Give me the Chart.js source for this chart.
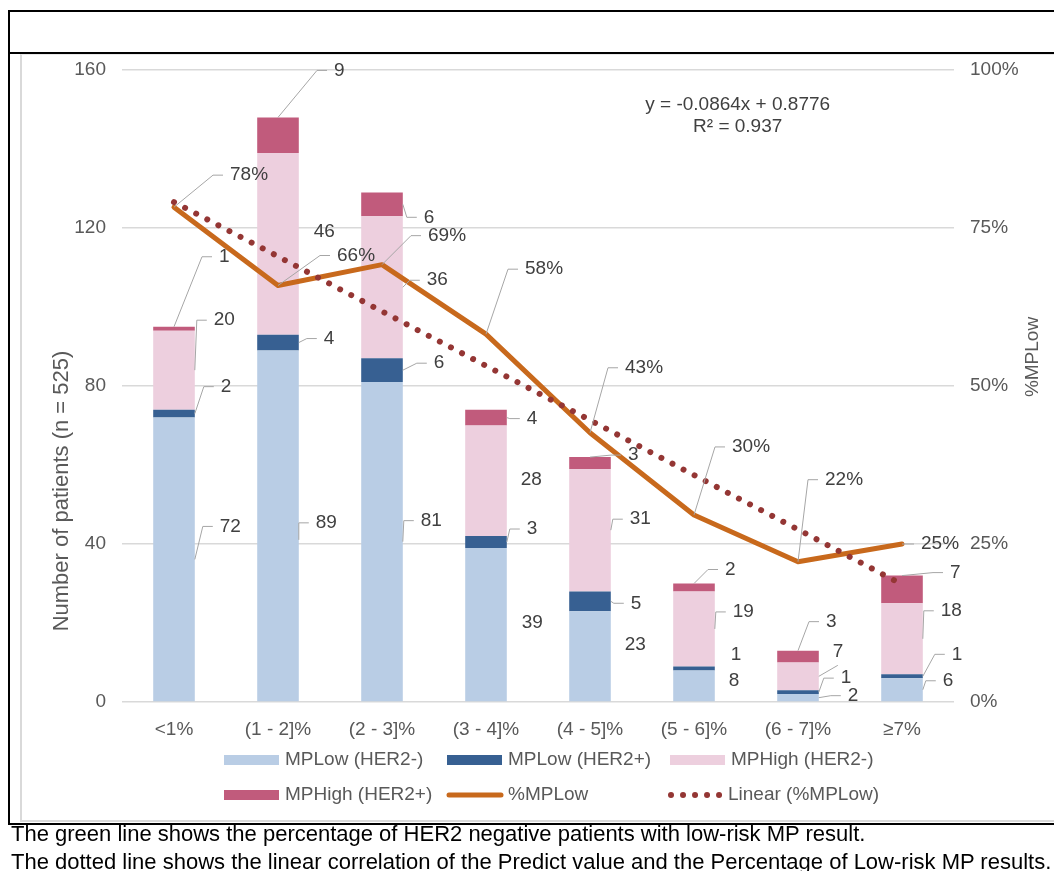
<!DOCTYPE html>
<html><head><meta charset="utf-8">
<script src="https://cdn.jsdelivr.net/npm/chart.js@4.4.1/dist/chart.umd.min.js"></script>
<style>
html,body{margin:0;padding:0;background:#fff;width:1054px;height:871px;overflow:hidden;font-family:"Liberation Sans",Arial,sans-serif;}
.ln{position:absolute;background:#000;}
#inner{position:absolute;left:20px;top:54px;width:1040px;height:765px;border-left:2px solid #D9D9D9;border-bottom:2px solid #D9D9D9;border-top:1px solid #E8E8E8;}
#cap{position:absolute;left:11px;top:820px;font-size:22px;line-height:28px;color:#000;white-space:nowrap;}
canvas{position:absolute;left:0;top:0;}
</style></head>
<body>
<div class="ln" style="left:8px;top:10px;width:1046px;height:2px"></div>
<div class="ln" style="left:8px;top:10px;width:2px;height:815px"></div>
<div class="ln" style="left:8px;top:52px;width:1046px;height:2px"></div>
<div id="inner"></div>
<div class="ln" style="left:8px;top:823px;width:1046px;height:2px"></div>
<canvas id="c" width="1054" height="871"></canvas>
<div id="cap">The green line shows the percentage of HER2 negative patients with low-risk MP result.<br>The dotted line shows the linear correlation of the Predict value and the Percentage of Low-risk MP results.</div>
<script>
const categories = ['<1%', '(1 - 2]%', '(2 - 3]%', '(3 - 4]%', '(4 - 5]%', '(5 - 6]%', '(6 - 7]%', '≥7%'];
const mpLowHer2Neg = [72, 89, 81, 39, 23, 8, 2, 6];
const mpLowHer2Pos = [2, 4, 6, 3, 5, 1, 1, 1];
const mpHighHer2Neg = [20, 46, 36, 28, 31, 19, 7, 18];
const mpHighHer2Pos = [1, 9, 6, 4, 3, 2, 3, 7];
const pctMPLow = [0.783, 0.659, 0.692, 0.582, 0.426, 0.296, 0.222, 0.25];
const linearMPLow = [0.791, 0.705, 0.618, 0.532, 0.446, 0.359, 0.273, 0.186];
const rightTickLabels = ['0%', '25%', '50%', '75%', '100%'];
const seriesNames = ['MPLow (HER2-)', 'MPLow (HER2+)', 'MPHigh (HER2-)', 'MPHigh (HER2+)', '%MPLow', 'Linear (%MPLow)'];
const trendText = ['y = -0.0864x + 0.8776', 'R² = 0.937'];
const leftTitle = 'Number of patients (n = 525)';
const rightTitle = '%MPLow';

const FONT = '"Liberation Sans", Arial, sans-serif';
const GREY = '#595959';

// label placement: [mode, dx, dy, leaderStartDy]
// mode r: right edge of segment + leader, n: no leader, t: top centre + leader, p: line point + leader, b: leader to label bottom
const labelLayout = {
  0: [['r',25,-33],['r',17,-3,14],['r',18,-21],['n',15,-2],['n',14,-11],['n',14,-5],['r',29,-2],['r',20,-9]],
  1: [['r',26,-27],['r',25,-4],['r',31,-7],['r',20,-13],['r',20,2],['n',16,-14],['r',22,-14],['r',29,-22]],
  2: [['r',19,-50],['n',15,-12],['r',24,-7],['n',14,-1],['r',19,-11],['r',18,-17],['b',14,-25],['r',18,-28]],
  3: [['t',45,-70],['t',56,-47],['r',21,13],['r',20,1],['t',38,-2],['t',31,-14],['t',28,-29],['t',48,-3]],
  4: [['p',56,-32],['p',59,-30],['p',46,-29],['p',39,-65],['p',35,-65],['p',38,-68],['p',27,-82],['p',19,0]]
};

const labelPlugin = {
  id: 'labelsAndDecor',
  afterDatasetsDraw(chart) {
    const ctx = chart.ctx;
    ctx.save();
    ctx.font = '19px ' + FONT;
    ctx.textBaseline = 'middle';
    ctx.textAlign = 'left';
    chart.data.datasets.forEach((ds, di) => {
      const lay = labelLayout[di];
      if (!lay) return;
      const meta = chart.getDatasetMeta(di);
      meta.data.forEach((el, i) => {
        const spec = lay[i];
        if (!spec) return;
        const [mode, dx, dy, ay] = spec;
        let ax, ayy;
        if (mode === 'p') { ax = el.x; ayy = el.y; }
        else if (mode === 't') { ax = el.x; ayy = Math.min(el.y, el.base); }
        else { ax = el.x + el.width / 2; ayy = (el.y + el.base) / 2; }
        const lx = ax + dx, ly = ayy + dy;
        const v = ds.data[i];
        const txt = ds.yAxisID === 'y1' ? Math.round(v * 100) + '%' : String(v);
        if (mode !== 'n') {
          ctx.strokeStyle = '#A6A6A6';
          ctx.lineWidth = 1;
          ctx.beginPath();
          ctx.moveTo(ax, ayy + (ay || 0));
          if (mode === 'b') { ctx.lineTo(lx + 5, ly + 14); }
          else { ctx.lineTo(lx - 17, ly); ctx.lineTo(lx - 7, ly); }
          ctx.stroke();
        }
        ctx.fillStyle = '#404040';
        ctx.fillText(txt, lx, ly);
      });
    });
    // trendline equation
    const ca = chart.chartArea;
    ctx.textAlign = 'center';
    ctx.fillStyle = '#404040';
    const ex = ca.left + (ca.right - ca.left) * 0.74;
    ctx.fillText(trendText[0], ex, ca.top + 35);
    ctx.fillText(trendText[1], ex, ca.top + 57);
    ctx.restore();
  },
  afterDraw(chart) {
    const ctx = chart.ctx;
    ctx.save();
    // axis titles
    ctx.fillStyle = GREY;
    ctx.textAlign = 'center';
    ctx.textBaseline = 'middle';
    ctx.font = '22px ' + FONT;
    ctx.translate(62, 491);
    ctx.rotate(-Math.PI / 2);
    ctx.fillText(leftTitle, 0, 0);
    ctx.setTransform(1, 0, 0, 1, 0, 0);
    ctx.font = '19px ' + FONT;
    ctx.translate(1033, 357);
    ctx.rotate(-Math.PI / 2);
    ctx.fillText(rightTitle, 0, 0);
    ctx.setTransform(1, 0, 0, 1, 0, 0);
    // legend (3-column grid)
    const colX = [224, 447, 670];
    const rowY = [760, 795];
    ctx.font = '19px ' + FONT;
    ctx.textAlign = 'left';
    chart.data.datasets.forEach((ds, i) => {
      const x = colX[i % 3], y = rowY[Math.floor(i / 3)];
      if (ds.type === 'line') {
        ctx.strokeStyle = ds.borderColor;
        ctx.lineWidth = ds.borderWidth;
        ctx.lineCap = 'round';
        if (ds.borderDash) {
          ctx.setLineDash([0.01, 12]);
          ctx.beginPath();
          ctx.moveTo(x + 1, y);
          ctx.lineTo(x + 54, y);
          ctx.stroke();
          ctx.setLineDash([]);
        } else {
          ctx.beginPath();
          ctx.moveTo(x + 2, y);
          ctx.lineTo(x + 54, y);
          ctx.stroke();
        }
      } else {
        ctx.fillStyle = ds.backgroundColor;
        ctx.fillRect(x, y - 5, 55, 10);
      }
      ctx.fillStyle = GREY;
      ctx.fillText(ds.label, x + (ds.borderDash ? 58 : 61), y);
    });
    ctx.restore();
  }
};

const tickFont = { size: 19, family: FONT };

new Chart(document.getElementById('c'), {
  type: 'bar',
  data: {
    labels: categories,
    datasets: [
      { type: 'bar', label: seriesNames[0], data: mpLowHer2Neg, backgroundColor: '#B9CDE5', yAxisID: 'y', order: 3 },
      { type: 'bar', label: seriesNames[1], data: mpLowHer2Pos, backgroundColor: '#376092', yAxisID: 'y', order: 3 },
      { type: 'bar', label: seriesNames[2], data: mpHighHer2Neg, backgroundColor: '#EDCFDE', yAxisID: 'y', order: 3 },
      { type: 'bar', label: seriesNames[3], data: mpHighHer2Pos, backgroundColor: '#C15B7C', yAxisID: 'y', order: 3 },
      { type: 'line', label: seriesNames[4], data: pctMPLow, borderColor: '#C8691C', borderWidth: 5, pointRadius: 0, tension: 0, fill: false, yAxisID: 'y1', order: 2, borderJoinStyle: 'round', borderCapStyle: 'round' },
      { type: 'line', label: seriesNames[5], data: linearMPLow, borderColor: '#943634', borderWidth: 6, borderDash: [0.01, 12.5], borderCapStyle: 'round', pointRadius: 0, tension: 0, fill: false, yAxisID: 'y1', order: 1 }
    ]
  },
  options: {
    responsive: false,
    animation: false,
    devicePixelRatio: 1,
    barPercentage: 0.4,
    categoryPercentage: 1,
    layout: { padding: { top: 70, left: 0, right: 0, bottom: 0 } },
    plugins: { legend: { display: false }, tooltip: { enabled: false } },
    scales: {
      x: {
        stacked: true,
        grid: { display: false },
        border: { display: false },
        ticks: { color: GREY, font: tickFont, padding: 8, maxRotation: 0, autoSkip: false },
        afterFit(s) { s.height = 169; }
      },
      y: {
        stacked: true, min: 0, max: 160,
        ticks: { stepSize: 40, color: GREY, font: tickFont, padding: 16 },
        grid: { color: '#D9D9D9', lineWidth: 1.5, drawTicks: false },
        border: { display: false },
        afterFit(s) { s.width = 122; }
      },
      y1: {
        position: 'right', min: 0, max: 1,
        ticks: { stepSize: 0.25, color: GREY, font: tickFont, padding: 16, callback: (v) => rightTickLabels[Math.round(v * 4)] },
        grid: { display: false, drawTicks: false },
        border: { display: false },
        afterFit(s) { s.width = 100; }
      }
    }
  },
  plugins: [labelPlugin]
});
</script>
</body></html>
